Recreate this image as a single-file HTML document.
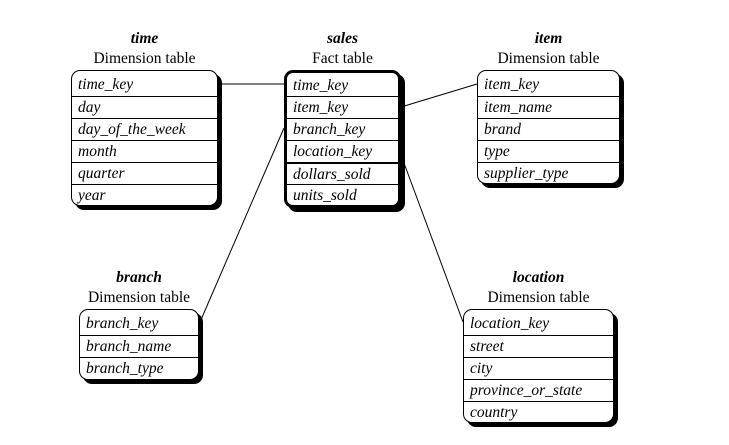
<!DOCTYPE html>
<html><head><meta charset="utf-8"><style>
body{margin:0;width:729px;height:445px;background:#fff;position:relative;overflow:hidden;font-family:"Liberation Serif",serif;color:#000}
.t{position:absolute;text-align:center;font-size:15.5px;line-height:20px}
.t b{font-style:italic}
.box{position:absolute;border:1px solid #000;border-radius:9px;box-shadow:4px 4px 0 #000;background:#fff;box-sizing:border-box;overflow:hidden}
.box div{height:22px;line-height:22px;border-top:1px solid #000;padding-left:6px;font-style:italic;font-size:15.5px;box-sizing:border-box}
.box div:first-child{border-top:none;height:25px;line-height:27px}
.thick{border-width:3px}
.thick div:first-child{height:23px;line-height:25px}
svg{position:absolute;left:0;top:0}
</style></head><body>
<svg width="729" height="445"><g stroke="#000" stroke-width="1">
<line x1="218" y1="84" x2="284" y2="84"/>
<line x1="401" y1="107" x2="477" y2="84"/>
<line x1="284" y1="128" x2="200" y2="322"/>
<line x1="401" y1="155" x2="463" y2="322"/>
</g></svg>
<div class="t" style="left:71px;width:147px;top:29px"><b>time</b><br>Dimension table</div>
<div class="box" style="left:71px;top:70px;width:147px;height:136px">
<div>time_key</div><div>day</div><div>day_of_the_week</div><div>month</div><div>quarter</div><div>year</div></div>
<div class="t" style="left:284px;width:117px;top:29px"><b>sales</b><br>Fact table</div>
<div class="box thick" style="left:284px;top:70px;width:117px;height:138px">
<div>time_key</div><div>item_key</div><div>branch_key</div><div>location_key</div><div style="border-top-width:2px">dollars_sold</div><div>units_sold</div></div>
<div class="t" style="left:477px;width:143px;top:29px"><b>item</b><br>Dimension table</div>
<div class="box" style="left:477px;top:70px;width:143px;height:114px">
<div>item_key</div><div>item_name</div><div>brand</div><div>type</div><div>supplier_type</div></div>
<div class="t" style="left:79px;width:120px;top:268px"><b>branch</b><br>Dimension table</div>
<div class="box" style="left:79px;top:309px;width:120px;height:71px">
<div>branch_key</div><div>branch_name</div><div>branch_type</div></div>
<div class="t" style="left:463px;width:151px;top:268px"><b>location</b><br>Dimension table</div>
<div class="box" style="left:463px;top:309px;width:151px;height:114px">
<div>location_key</div><div>street</div><div>city</div><div>province_or_state</div><div>country</div></div>
</body></html>
